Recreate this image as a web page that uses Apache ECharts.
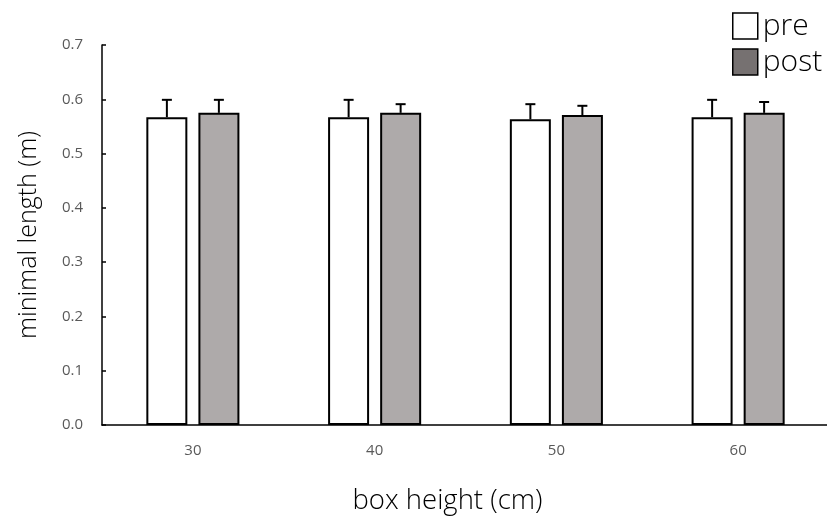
<!DOCTYPE html>
<html>
<head>
<meta charset="utf-8">
<script src="https://cdn.jsdelivr.net/npm/echarts@6/dist/echarts.min.js"></script>
<style>html,body{margin:0;padding:0;background:#fff}#c{width:827px;height:518px}</style>
</head>
<body>
<div id="c"></div>
<script>
// box heights (cm)
const categories = ['30', '40', '50', '60'];
// mean minimal length (m) and standard deviation, before and after
const preMean  = [0.567, 0.567, 0.563, 0.567];
const preSd    = [0.032, 0.032, 0.028, 0.032];
const postMean = [0.575, 0.575, 0.571, 0.575];
const postSd   = [0.024, 0.016, 0.017, 0.020];
const yTicks = [0, 0.1, 0.2, 0.3, 0.4, 0.5, 0.6, 0.7];

const FONT = 'Open Sans';
const chart = echarts.init(document.getElementById('c'));

// upper-only error whisker drawn at a bar's offset within its category band
function whisker(offset) {
  return function (params, api) {
    const idx = api.value(0);
    const top = api.coord([idx, api.value(1) + api.value(2)]);
    const base = api.coord([idx, api.value(1)]);
    const x = base[0] + offset;
    const style = { stroke: '#000', lineWidth: 2 };
    return {
      type: 'group',
      children: [
        { type: 'line', shape: { x1: x, y1: base[1], x2: x, y2: top[1] }, style },
        { type: 'line', shape: { x1: x - 5, y1: top[1], x2: x + 5, y2: top[1] }, style }
      ]
    };
  };
}

chart.setOption({
  animation: false,
  grid: { left: 102, top: 45, width: 727, height: 380, containLabel: false, outerBoundsMode: 'none' },
  legend: {
    orient: 'vertical',
    left: 727, top: 5,
    icon: 'rect',
    itemWidth: 25, itemHeight: 26, itemGap: 4,
    textStyle: { fontFamily: FONT, fontSize: 30, lineHeight: 32, color: '#000', fontWeight: 300 },
    data: [
      { name: 'pre', itemStyle: { color: '#ffffff', borderColor: '#000', borderWidth: 1.5 } },
      { name: 'post', itemStyle: { color: '#767171', borderColor: '#000', borderWidth: 1.5 } }
    ]
  },
  xAxis: {
    type: 'category',
    data: categories,
    name: 'box height (cm)',
    nameLocation: 'middle',
    nameGap: 62,
    nameTextStyle: { fontFamily: FONT, fontSize: 27.5, color: '#000', fontWeight: 300, padding: [0, 36, 0, 0] },
    axisLine: { lineStyle: { color: '#000', width: 1.5 } },
    axisTick: { show: false },
    axisLabel: { fontFamily: FONT, fontSize: 15, color: '#595959', margin: 18 }
  },
  yAxis: {
    type: 'value',
    min: 0, max: 0.7, interval: 0.1,
    name: 'minimal length (m)',
    nameLocation: 'middle',
    nameGap: 61,
    nameTextStyle: { fontFamily: FONT, fontSize: 25, color: '#000', fontWeight: 300 },
    axisLine: { show: true, lineStyle: { color: '#000', width: 1.5 } },
    axisTick: { show: true, inside: true, length: 4, lineStyle: { color: '#000', width: 1.5 } },
    axisLabel: {
      fontFamily: FONT, fontSize: 15, color: '#595959', margin: 19,
      formatter: v => yTicks.includes(+v.toFixed(1)) ? v.toFixed(1) : ''
    },
    splitLine: { show: false }
  },
  series: [
    {
      name: 'pre', type: 'bar', data: preMean,
      barWidth: 41, barGap: '27%',
      itemStyle: { color: '#ffffff', borderColor: '#000', borderWidth: 2 }
    },
    {
      name: 'post', type: 'bar', data: postMean,
      barWidth: 41,
      itemStyle: { color: '#aeaaaa', borderColor: '#000', borderWidth: 2 }
    },
    {
      type: 'custom', name: 'preErr', z: 1,
      renderItem: whisker(-26),
      data: preMean.map((m, i) => [i, m, preSd[i]])
    },
    {
      type: 'custom', name: 'postErr', z: 1,
      renderItem: whisker(26),
      data: postMean.map((m, i) => [i, m, postSd[i]])
    }
  ]
});
</script>
</body>
</html>
